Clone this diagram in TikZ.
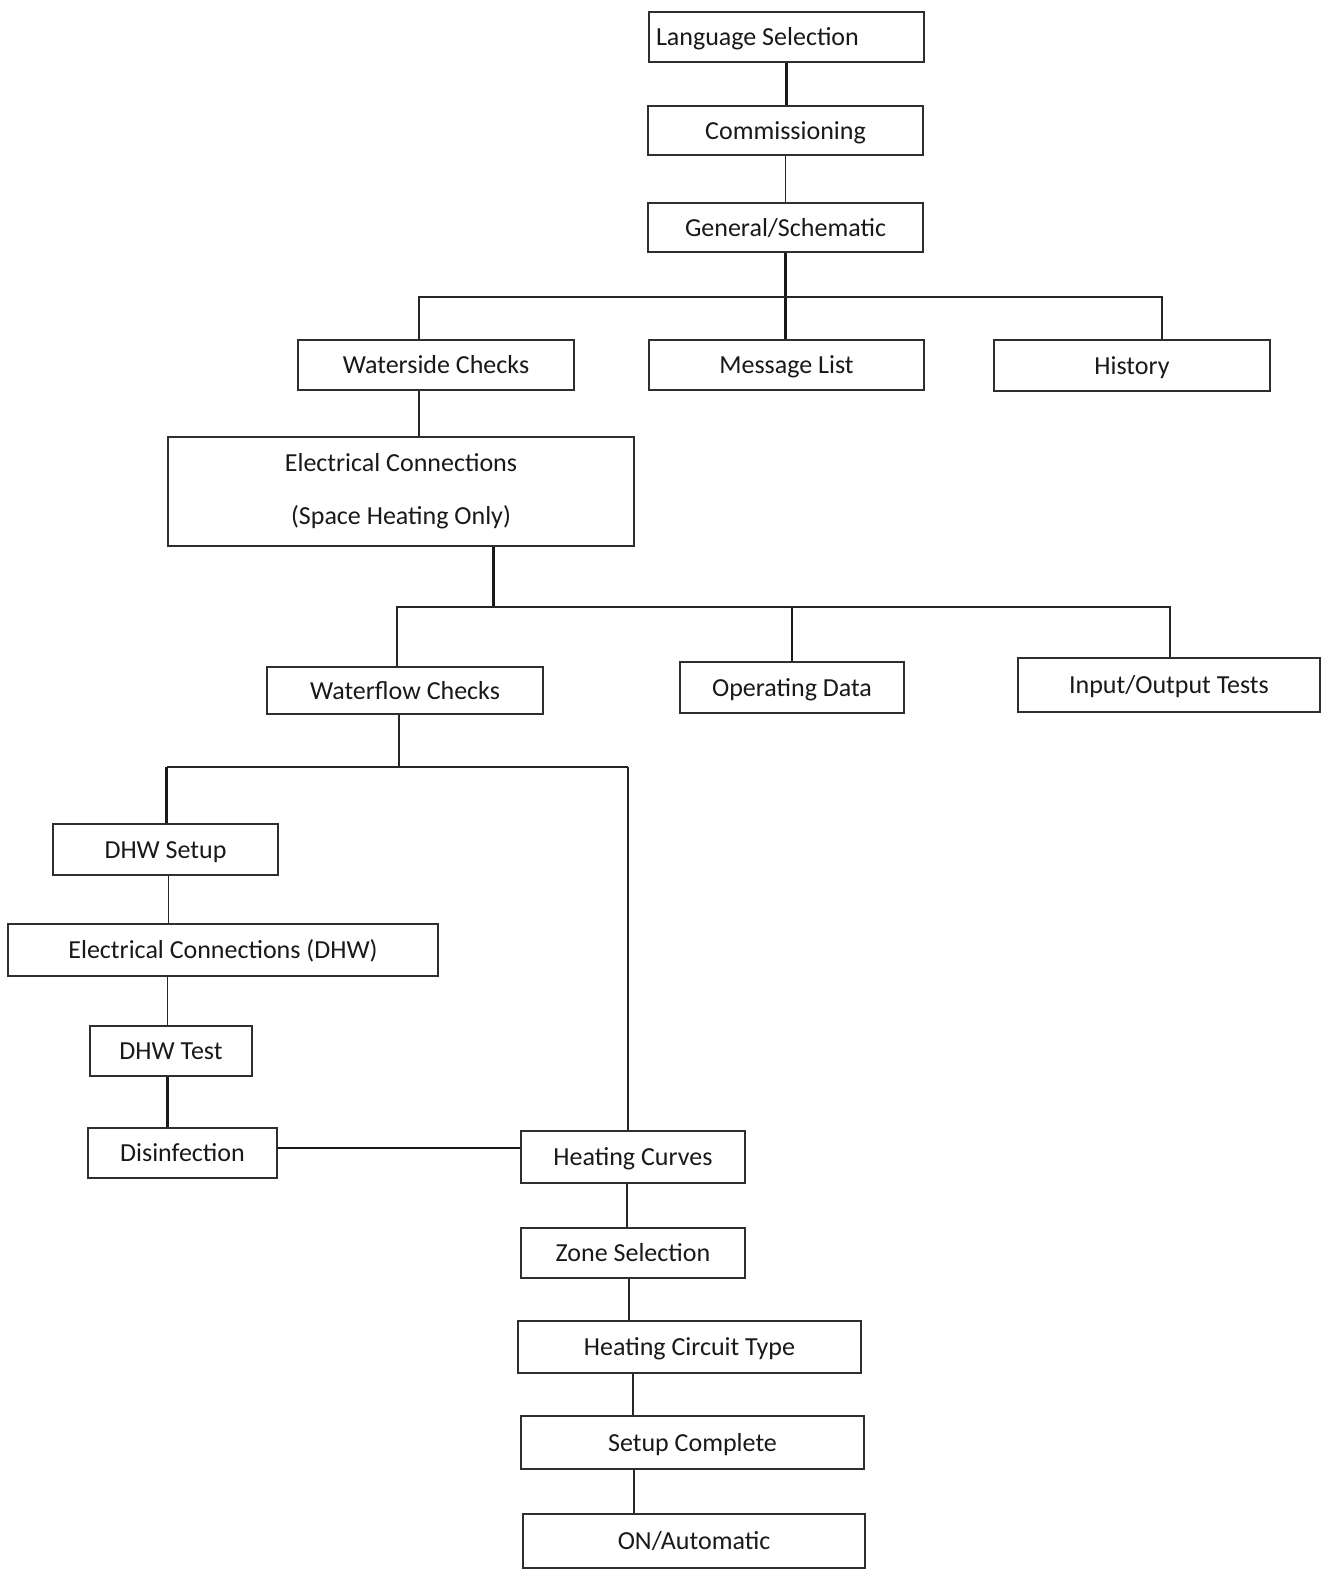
\documentclass[tikz,border=0pt]{standalone}
\usepackage{fontspec}
\setmainfont{Carlito}
\begin{document}
\begin{tikzpicture}[x=1pt,y=-1pt,
  box/.style={draw=black!82, line width=1.9pt, fill=white, inner sep=0pt, align=center,
    text=black!90, font=\fontsize{26}{30}\selectfont, text height=20pt, text depth=2.8pt},
  tallbox/.style={box, text height=, text depth=, font=\fontsize{26}{53}\selectfont},
  thinline/.style={draw=black!85, line width=1.2pt},
  midline/.style={draw=black!85, line width=1.8pt},
  thickline/.style={draw=black!90, line width=2.6pt}]
\useasboundingbox (0,0) rectangle (1326,1573);

% ---- boxes ----
\node[box, minimum width=275pt, minimum height=50pt] (lang) at (786.5,37) {\makebox[261pt][l]{Language Selection}};
\node[box, minimum width=275pt, minimum height=49pt] (comm) at (785.5,130.5) {Commissioning};
\node[box, minimum width=275pt, minimum height=49pt] (gen) at (785.5,227.5) {General/Schematic};
\node[box, minimum width=276pt, minimum height=50pt] (waterside) at (436,365) {Waterside Checks};
\node[box, minimum width=275pt, minimum height=50pt] (msg) at (786.5,365) {Message List};
\node[box, minimum width=276pt, minimum height=51pt] (history) at (1132,365.5) {History};
\node[tallbox, minimum width=466pt, minimum height=109pt] (elecsh) at (401,491.5) {Electrical Connections\\(Space Heating Only)};
\node[box, minimum width=276pt, minimum height=47pt] (waterflow) at (405,690.5) {Waterflow Checks};
\node[box, minimum width=224pt, minimum height=51pt] (operating) at (792,687.5) {Operating Data};
\node[box, minimum width=302pt, minimum height=54pt] (io) at (1169,685) {Input/Output Tests};
\node[box, minimum width=225pt, minimum height=51pt] (dhwsetup) at (165.5,849.5) {DHW Setup};
\node[box, minimum width=430pt, minimum height=52pt] (elecdhw) at (223,950) {Electrical Connections (DHW)};
\node[box, minimum width=162pt, minimum height=50pt] (dhwtest) at (171,1051) {DHW Test};
\node[box, minimum width=189pt, minimum height=50pt] (disinf) at (182.5,1153) {Disinfection};
\node[box, minimum width=224pt, minimum height=52pt] (curves) at (633,1157) {Heating Curves};
\node[box, minimum width=224pt, minimum height=50pt] (zone) at (633,1253) {Zone Selection};
\node[box, minimum width=343pt, minimum height=52pt] (circuit) at (689.5,1347) {Heating Circuit Type};
\node[box, minimum width=343pt, minimum height=53pt] (setup) at (692.5,1442.5) {Setup Complete};
\node[box, minimum width=342pt, minimum height=54pt] (auto) at (694,1541) {ON/Automatic};

% ---- junction points of the branch lines ----
\coordinate (busAL) at (419,297);
\coordinate (busAR) at (1162,297);
\coordinate (busB) at (493.5,607);
\coordinate (busBL) at (397,607);
\coordinate (busBR) at (1170,607);
\coordinate (busCL) at (166.5,767);
\coordinate (busCM) at (399,767);
\coordinate (busCR) at (628,767);
\coordinate (busD) at (400,1148);

% ---- top chain ----
\draw[thickline] (lang.south) -- (lang.south |- comm.north);
\draw[thinline] (comm.south) -- (comm.south |- gen.north);
\draw[thickline] (gen.south) -- (gen.south |- msg.north);
\draw[thinline] (waterside.north -| busAL) -- (busAL) -- (busAR) -- (history.north -| busAR);
\draw[thinline] (waterside.south -| busAL) -- (elecsh.north -| busAL);

% ---- second branch ----
\draw[thickline] (elecsh.south -| busB) -- (busB);
\draw[thinline] (waterflow.north -| busBL) -- (busBL) -- (busBR) -- (io.north -| busBR);
\draw[thickline] (operating.north) -- (operating.north |- busBL);

% ---- third branch ----
\draw[thinline] (waterflow.south -| busCM) -- (busCM);
\draw[midline] (busCL) -- (busCR);
\draw[thickline] (busCL) -- (dhwsetup.north -| busCL);
\draw[midline] (busCR) -- (curves.north -| busCR);

% ---- DHW chain ----
\draw[thinline] (dhwsetup.south -| 168.5,0) -- (elecdhw.north -| 168.5,0);
\draw[thinline] (elecdhw.south -| 167.5,0) -- (dhwtest.north -| 167.5,0);
\draw[thickline] (dhwtest.south -| 167.5,0) -- (disinf.north -| 167.5,0);
\draw[thickline] (disinf.east |- busD) -- (curves.west |- busD);

% ---- heating chain ----
\draw[thinline] (curves.south -| 627,0) -- (zone.north -| 627,0);
\draw[thinline] (zone.south -| 629,0) -- (circuit.north -| 629,0);
\draw[thinline] (circuit.south -| 633,0) -- (setup.north -| 633,0);
\draw[thinline] (setup.south -| 634,0) -- (auto.north -| 634,0);
\end{tikzpicture}
\end{document}
